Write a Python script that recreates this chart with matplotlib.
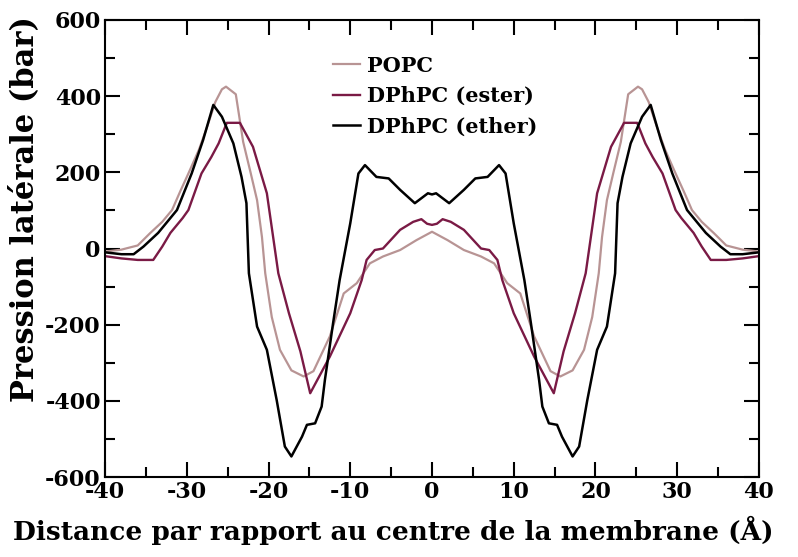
import matplotlib
matplotlib.use("Agg")
import matplotlib.pyplot as plt
from matplotlib.ticker import MultipleLocator

# POPC
popc_x = [-40, -38, -36, -34.5, -33, -31.8, -30.8, -29.8, -28.5, -27.5, -26.5, -25.7, -25.2, -24.0,
          -23.1, -22.2, -21.4, -20.8, -20.4, -19.6, -18.6, -17.2, -15.7, -14.5, -12.5, -10.8, -9.2,
          -7.6, -6.0, -3.9, -1.9, 0,
          1.9, 3.9, 6.0, 7.6, 9.2, 10.8, 12.5, 14.5, 15.7, 17.2, 18.6, 19.6, 20.4, 20.8, 21.4, 22.2,
          23.1, 24.0, 25.2, 25.7, 26.5, 27.5, 28.5, 29.8, 30.8, 31.8, 33, 34.5, 36, 38, 40]
popc_y = [-8, -3, 8, 40, 70, 101, 150, 197, 260, 320, 385, 418, 425, 405,
          280, 200, 127, 30, -65, -180, -266, -320, -336, -322, -231, -118, -91,
          -39, -21, -4, 22, 44,
          22, -4, -21, -39, -91, -118, -231, -322, -336, -320, -266, -180, -65, 30, 127, 200,
          280, 405, 425, 418, 385, 320, 260, 197, 150, 101, 70, 40, 8, -3, -8]

# DPhPC (ester)
ester_x = [-40, -38, -36, -34.1, -33, -32, -30.5, -29.8, -28.2, -27, -26.1, -25.1, -23.5, -21.9,
           -20.2, -18.8, -17.5, -16.1, -14.9, -12.5, -10.0, -8.6, -8.0, -7.0, -6.0, -3.9, -2.3,
           -1.3, -0.6, 0,
           0.6, 1.3, 2.3, 3.9, 6.0, 7.0, 8.0, 8.6, 10.0, 12.5, 14.9, 16.1, 17.5, 18.8, 20.2, 21.9,
           23.5, 25.1, 26.1, 27, 28.2, 29.8, 30.5, 32, 33, 34.1, 36, 38, 40]
ester_y = [-20, -26, -30, -30, 5, 41, 80, 101, 197, 240, 276, 330, 330, 267,
           145, -65, -170, -270, -380, -284, -170, -83, -30, -4, 0, 49, 70,
           77, 65, 62,
           65, 77, 70, 49, 0, -4, -30, -83, -170, -284, -380, -270, -170, -65, 145, 267,
           330, 330, 276, 240, 197, 101, 80, 41, 5, -30, -30, -26, -20]

# DPhPC (ether)
ether_x = [-40, -38, -36.5, -35.3, -33.5, -31.2, -29.4, -28.0, -26.75, -25.7, -24.3, -23.3, -22.7,
           -22.4, -21.4, -20.2, -19.0, -18.0, -17.2, -15.9, -15.3, -14.3, -13.5, -13.1, -12.1,
           -11.3, -10.0, -9.0, -8.2, -6.8, -5.3, -3.9, -2.1, -0.5, 0,
           0.5, 2.1, 3.9, 5.3, 6.8, 8.2, 9.0, 10.0, 11.3, 12.1, 13.1, 13.5, 14.3, 15.3, 15.9,
           17.2, 18.0, 19.0, 20.2, 21.4, 22.4, 22.7, 23.3, 24.3, 25.7, 26.75, 28.0, 29.4, 31.2,
           33.5, 35.3, 36.5, 38, 40]
ether_y = [-10, -15, -15, 5, 41, 101, 197, 285, 377, 346, 276, 188, 119,
           -65, -205, -266, -398, -520, -546, -494, -463, -459, -415, -345, -196,
           -83, 66, 197, 219, 188, 184, 154, 119, 145, 142,
           145, 119, 154, 184, 188, 219, 197, 66, -83, -196, -345, -415, -459, -463, -494,
           -546, -520, -398, -266, -205, -65, 119, 188, 276, 346, 377, 285, 197, 101,
           41, 5, -15, -15, -10]

series_labels = ["POPC", "DPhPC (ester)", "DPhPC (ether)"]
x_ticks = [-40, -30, -20, -10, 0, 10, 20, 30, 40]
y_ticks = [-600, -400, -200, 0, 200, 400, 600]

plt.rcParams["font.family"] = ["DejaVu Serif"]
plt.rcParams["font.weight"] = "bold"
plt.rcParams["axes.unicode_minus"] = False

fig = plt.figure(figsize=(7.98, 5.57), dpi=100)
ax = fig.add_axes([0.1316, 0.1436, 0.8195, 0.8205])

ax.plot(popc_x, popc_y, color="#b89494", lw=1.6, label=series_labels[0])
ax.plot(ester_x, ester_y, color="#7a1a45", lw=1.7, label=series_labels[1])
ax.plot(ether_x, ether_y, color="black", lw=1.8, label=series_labels[2])

ax.set_xlim(-40, 40)
ax.set_ylim(-600, 600)
ax.set_xticks(x_ticks)
ax.set_yticks(y_ticks)
ax.xaxis.set_minor_locator(MultipleLocator(5))
ax.yaxis.set_minor_locator(MultipleLocator(100))
ax.tick_params(which="both", direction="in", top=True, right=True, width=1.5)
ax.tick_params(which="major", length=11, labelsize=16, pad=3)
ax.tick_params(which="minor", length=7)
for s in ax.spines.values():
    s.set_linewidth(1.5)

ax.set_xlabel("Distance par rapport au centre de la membrane (Å)", fontsize=19, fontweight="bold")
ax.set_ylabel("Pression latérale (bar)", fontsize=22, fontweight="bold")
ax.xaxis.set_label_coords(0.44, -0.086)
ax.yaxis.set_label_coords(-0.099, 0.586)

ax.legend(loc="upper left", bbox_to_anchor=(0.349, 0.922), frameon=False, fontsize=15,
          handlelength=1.3, handletextpad=0.34, labelspacing=0.5, borderpad=0, borderaxespad=0)

fig.savefig("out.png", dpi=100)
